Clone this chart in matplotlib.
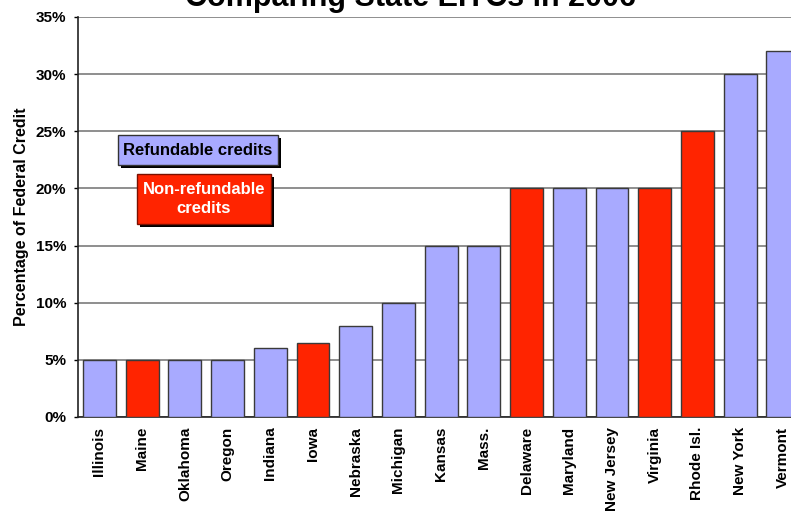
import matplotlib
matplotlib.use('Agg')
import matplotlib.pyplot as plt
import matplotlib.patheffects as pe
from matplotlib.patches import Rectangle
from matplotlib.ticker import FuncFormatter

plt.rcParams['font.family'] = ['Liberation Sans', 'DejaVu Sans']
plt.rcParams['font.weight'] = 'bold'

# State EITC as a percentage of the federal credit
states = ['Illinois', 'Maine', 'Oklahoma', 'Oregon', 'Indiana', 'Iowa',
          'Nebraska', 'Michigan', 'Kansas', 'Mass.', 'Delaware', 'Maryland',
          'New Jersey', 'Virginia', 'Rhode Isl.', 'New York', 'Vermont']
percent = [5, 5, 5, 5, 6, 6.5, 8, 10, 15, 15, 20, 20, 20, 20, 25, 30, 32]
refundable = [True, False, True, True, True, False, True, True, True, True,
              False, True, True, False, False, True, True]

REFUND_COLOR = '#a8aaff'
NONREFUND_COLOR = '#ff2400'

W, H = 791, 514


def main():
    fig = plt.figure(figsize=(W / 100, H / 100), dpi=100)
    ax = fig.add_axes([78 / W, 97 / H, 1 - 78 / W, 400 / H])

    colors = [REFUND_COLOR if r else NONREFUND_COLOR for r in refundable]
    x = list(range(len(states)))
    ax.bar(x, percent, width=0.77, color=colors, edgecolor='#3a3a3a',
           linewidth=1.0, zorder=3)

    ax.set_xlim(-0.503, 16.19)
    ax.set_ylim(0, 35)
    ax.set_yticks(range(0, 36, 5))
    ax.yaxis.set_major_formatter(FuncFormatter(lambda v, p: '%d%%' % v))
    ax.set_xticks(x)
    ax.set_xticklabels(states, rotation=90, fontsize=11, fontweight='bold')
    ax.tick_params(axis='x', length=0, pad=7)
    ax.tick_params(axis='y', length=3, width=1, pad=5.5, labelsize=11)
    for lab in ax.get_yticklabels():
        lab.set_fontweight('bold')

    ax.yaxis.grid(True, color='#707070', linewidth=1.1, zorder=0)
    ax.set_axisbelow(True)
    for side in ['top', 'right']:
        ax.spines[side].set_visible(False)
    ax.spines['left'].set_color('#222222')
    ax.spines['bottom'].set_color('#222222')
    ax.spines['left'].set_linewidth(1.2)
    ax.spines['bottom'].set_linewidth(1.2)

    ax.set_ylabel('Percentage of Federal Credit', fontsize=11.5,
                  fontweight='bold', labelpad=5)

    fig.text(0.519, 1 - 6 / H, 'Comparing State EITCs in 2006',
             ha='center', va='baseline', fontsize=22, fontweight='bold')

    # hand-drawn key boxes with drop shadows
    shadow = [pe.SimplePatchShadow(offset=(2.5, -2.5), shadow_rgbFace='black',
                                   alpha=1.0), pe.Normal()]

    def key_box(x0, y0, x1, y1, face, edge, text, tcolor):
        rect = Rectangle((x0 / W, 1 - y1 / H), (x1 - x0) / W, (y1 - y0) / H,
                         transform=fig.transFigure, facecolor=face,
                         edgecolor=edge, linewidth=1.0, zorder=5)
        rect.set_path_effects(shadow)
        fig.add_artist(rect)
        fig.text((x0 + x1) / 2 / W, 1 - (y0 + y1) / 2 / H, text,
                 ha='center', va='center', fontsize=12, fontweight='bold',
                 color=tcolor, linespacing=1.35, zorder=6)

    key_box(118, 135, 278, 165, REFUND_COLOR, '#333333',
            'Refundable credits', 'black')
    key_box(137, 174, 271, 224, NONREFUND_COLOR, '#7a1000',
            'Non-refundable\ncredits', 'white')

    fig.savefig('out.png', dpi=100)


if __name__ == "__main__":
    main()
